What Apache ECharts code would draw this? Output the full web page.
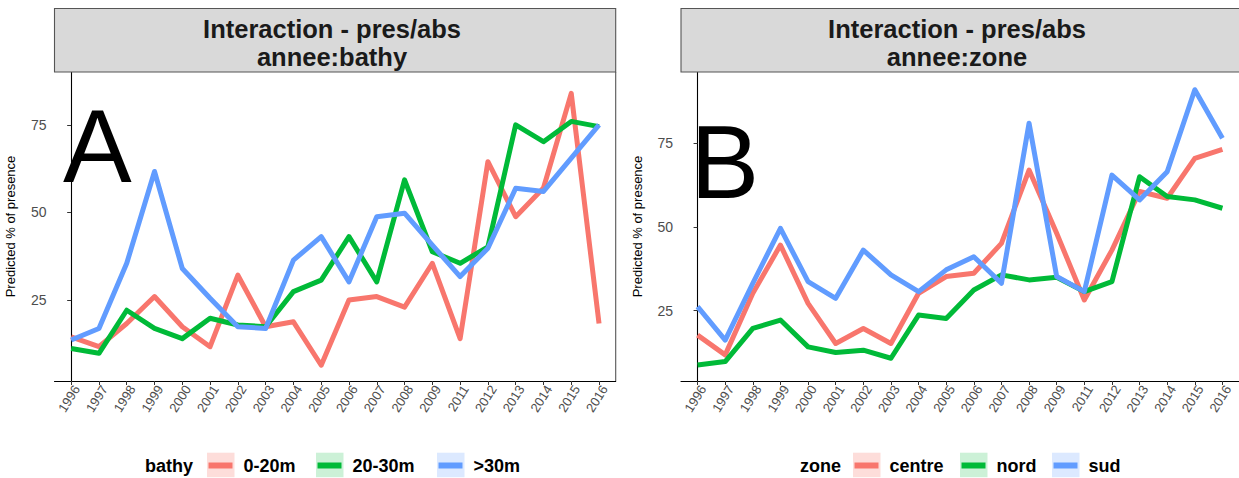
<!DOCTYPE html>
<html>
<head>
<meta charset="utf-8">
<script src="https://cdn.jsdelivr.net/npm/echarts@6.0.0/dist/echarts.min.js"></script>
<style>
html,body{margin:0;padding:0;background:#fff;}
#chart{width:1239px;height:478px;}
</style>
</head>
<body>
<div id="chart"></div>
<script>
// ---------- data ----------
const years = ['1996','1997','1998','1999','2000','2001','2002','2003','2004','2005','2006','2007','2008','2009','2011','2012','2013','2014','2015','2016'];
const yTicks = [25, 50, 75];

// Panel A : annee:bathy
const bathyNames = ['0-20m', '20-30m', '>30m'];
const bathy_0_20  = [14.5, 11.7, 18.3, 26.0, 17.4, 11.7, 32.1, 17.4, 18.8, 6.4, 25.0, 26.0, 23.0, 35.5, 14.0, 64.5, 48.8, 57.0, 84.0, 18.3];
const bathy_20_30 = [11.2, 9.8, 22.1, 16.9, 14.0, 19.8, 17.9, 17.4, 27.4, 30.7, 43.1, 30.2, 59.3, 38.8, 35.5, 40.2, 75.0, 70.2, 76.0, 74.5];
const bathy_30    = [13.6, 16.9, 35.5, 61.7, 34.0, 25.5, 17.4, 16.9, 36.4, 43.1, 30.2, 48.8, 49.8, 40.7, 31.7, 39.8, 56.9, 56.0, 65.5, 75.0];

// Panel B : annee:zone
const zoneNames = ['centre', 'nord', 'sud'];
const zone_centre = [17.7, 11.8, 30.2, 44.6, 27.2, 15.2, 19.7, 15.2, 30.2, 35.2, 36.2, 45.1, 67.0, 48.1, 28.2, 43.1, 60.6, 58.6, 70.5, 73.2];
const zone_nord   = [8.8, 9.8, 19.7, 22.2, 14.2, 12.5, 13.2, 10.8, 23.7, 22.7, 31.2, 35.7, 34.2, 35.0, 30.7, 33.7, 65.0, 59.1, 58.1, 55.6];
const zone_sud    = [26.2, 16.2, 33.2, 49.6, 33.7, 28.7, 43.1, 35.7, 30.7, 37.2, 41.1, 33.2, 81.0, 35.2, 30.7, 65.5, 58.1, 66.5, 91.0, 76.5];

// ---------- styling ----------
const COLORS = ['#F8766D', '#00BA38', '#619CFF'];
const LIGHT = ['rgba(248,118,109,0.25)', 'rgba(0,186,56,0.2)', 'rgba(97,156,255,0.22)'];
const FONT = 'Liberation Sans, Arial, sans-serif';
const W = 1239;

const panels = [
  {left: 54.5, right: 615.7, ymin: 1.9, ymax: 90.1, names: bathyNames, series: [bathy_0_20, bathy_20_30, bathy_30],
   title: 'Interaction - pres/abs\nannee:bathy', titleX: 332, letter: 'A', letterX: 63, letterY: 146,
   legTitle: 'bathy', legTitleX: 145, boxes: [207, 316, 437]},
  {left: 681, right: 1245, ymin: 4.0, ymax: 96.3, names: zoneNames, series: [zone_centre, zone_nord, zone_sud],
   title: 'Interaction - pres/abs\nannee:zone', titleX: 957, letter: 'B', letterX: 690.5, letterY: 162,
   legTitle: 'zone', legTitleX: 800, boxes: [853, 960, 1052]}
];

const idx = years.map((y, i) => i);
const grids = [], xAxes = [], yAxes = [], series = [], legends = [], graphics = [];

panels.forEach((p, k) => {
  grids.push({left: p.left, top: 72, width: Math.min(p.right, W + 6) - p.left, bottom: 97, containLabel: false});
  xAxes.push({
    type: 'value', gridIndex: k, min: -0.6, max: years.length - 1 + 0.6,
    axisLine: {show: true, lineStyle: {color: '#000', width: 1.1}},
    axisTick: {show: true, customValues: idx, length: 4, lineStyle: {color: '#333', width: 1}},
    axisLabel: {show: true, customValues: idx, formatter: v => years[Math.round(v)], rotate: 58,
      color: '#4D4D4D', fontSize: 13, fontFamily: FONT, margin: 2, verticalAlign: 'top'},
    splitLine: {show: false}
  });
  yAxes.push({
    type: 'value', gridIndex: k, min: p.ymin, max: p.ymax,
    name: 'Predicted % of presence', nameLocation: 'middle', nameGap: 37.5,
    nameTextStyle: {color: '#000', fontSize: 13, fontFamily: FONT},
    axisLine: {show: true, lineStyle: {color: '#000', width: 1.1}},
    axisTick: {show: true, customValues: yTicks, length: 4, lineStyle: {color: '#333', width: 1}},
    axisLabel: {show: true, customValues: yTicks, color: '#4D4D4D', fontSize: 14, fontFamily: FONT, margin: 8},
    splitLine: {show: false}
  });
  p.series.forEach((arr, j) => {
    series.push({
      type: 'line', name: p.names[j], xAxisIndex: k, yAxisIndex: k,
      data: arr.map((v, i) => [i, v]),
      showSymbol: false, symbol: 'none', silent: true,
      lineStyle: {color: COLORS[j], width: 5, join: 'round', cap: 'butt'},
      itemStyle: {color: COLORS[j]}, z: 2 + j
    });
    legends.push({
      data: [p.names[j]], left: p.boxes[j] + 1.5, top: 456.5, padding: 0,
      icon: 'rect', itemWidth: 24, itemHeight: 6, selectedMode: false,
      itemStyle: {color: COLORS[j]},
      textStyle: {color: '#000', fontSize: 18, fontWeight: 'bold', fontFamily: FONT, lineHeight: 18, padding: [0, 0, 0, 6]}
    });
    graphics.push({type: 'rect', z: 0, shape: {x: p.boxes[j], y: 452.7, width: 27.5, height: 24.5}, style: {fill: LIGHT[j]}});
  });
  // strip
  const sr = Math.min(p.right, W + 6);
  graphics.push({type: 'rect', z: 1, shape: {x: p.left, y: 8.5, width: sr - p.left, height: 63.5}, style: {fill: '#D9D9D9', stroke: '#555', lineWidth: 1.1}});
  graphics.push({type: 'text', z: 2, x: p.titleX, y: 43,
    style: {text: p.title, align: 'center', verticalAlign: 'middle', font: 'bold 25.5px ' + FONT, lineHeight: 28, fill: '#1A1A1A'}});
  // big letter
  graphics.push({type: 'text', z: 10, x: p.letterX, y: p.letterY,
    style: {text: p.letter, align: 'left', verticalAlign: 'middle', font: '103px ' + FONT, fill: '#000'}});
  // legend title
  graphics.push({type: 'text', z: 2, x: p.legTitleX, y: 466,
    style: {text: p.legTitle, align: 'left', verticalAlign: 'middle', font: 'bold 18px ' + FONT, fill: '#000'}});
});
// right border of panel A
graphics.push({type: 'line', z: 1, shape: {x1: 615.7, y1: 72, x2: 615.7, y2: 381}, style: {stroke: '#555', lineWidth: 1.1}});

const chart = echarts.init(document.getElementById('chart'), null, {renderer: 'svg'});
chart.setOption({
  animation: false,
  backgroundColor: '#fff',
  grid: grids, xAxis: xAxes, yAxis: yAxes, series: series,
  legend: legends, graphic: graphics
});
</script>
</body>
</html>
